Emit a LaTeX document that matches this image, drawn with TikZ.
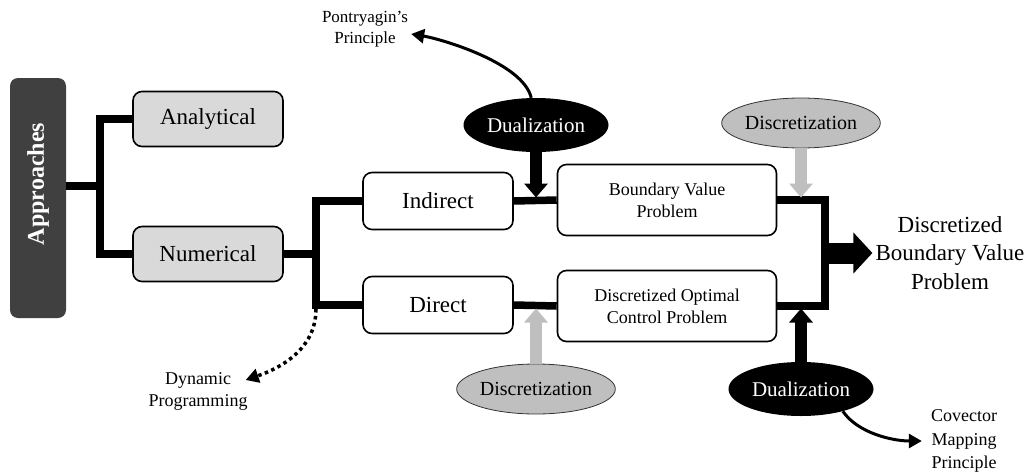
\documentclass[tikz,border=0pt]{standalone}
\usepackage{fontspec}
\setmainfont{Liberation Serif}
\usetikzlibrary{shapes.geometric,arrows.meta}
\definecolor{darkbox}{HTML}{404040}
\definecolor{lightbox}{HTML}{D9D9D9}
\definecolor{discgray}{HTML}{BFBFBF}

\begin{document}
\begin{tikzpicture}[x=1pt,y=-1pt,
  box/.style={draw,rounded corners=9pt,line width=1.6pt,align=center,inner sep=0pt},
  greybox/.style={box,fill=lightbox,minimum width=150pt,minimum height=55pt,font=\fontsize{23}{27}\selectfont},
  plainbox/.style={box,fill=white,minimum width=150pt,minimum height=57pt,font=\fontsize{23}{27}\selectfont},
  widebox/.style={box,fill=white,minimum width=219pt,minimum height=71pt,font=\fontsize{18}{22}\selectfont},
  dual/.style={ellipse,fill=black,text=white,minimum width=145pt,minimum height=54pt,inner sep=0pt,font=\fontsize{21}{25}\selectfont},
  disc/.style={ellipse,draw=black!80,line width=0.8pt,fill=discgray,minimum width=145pt,minimum height=50pt,inner sep=0pt,font=\fontsize{20}{24}\selectfont},
  side/.style={align=center,inner sep=3pt,font=\fontsize{18}{22}\selectfont},
  conn/.style={line width=7.5pt,line join=miter},
  fat/.style={line width=12pt,shorten >=3.5pt,-{Triangle[width=23pt,length=14pt]}},
  curve/.style={line width=3pt,-{Triangle[width=14pt,length=13pt]}}]

\useasboundingbox (0,0) rectangle (1031,474);

\node[fill=darkbox,rounded corners=8pt,rotate=90,minimum width=240pt,minimum height=56pt,
  text=white,font=\fontsize{24}{28}\selectfont\bfseries] (app) at (38,198) {\hspace*{28pt}Approaches};

\node[greybox] (ana) at (208,119) {Analytical};
\node[greybox] (num) at (208,254) {Numerical};
\node[plainbox] (ind) at (438,201) {Indirect};
\node[plainbox] (dir) at (438,305) {Direct};
\node[widebox] (bvp) at (667,200) {Boundary Value\\Problem};
\node[widebox] (docp) at (667,306) {Discretized Optimal\\Control Problem};
\node[align=center,inner sep=3pt,font=\fontsize{23}{28.5}\selectfont] (dbvp) at (950,253) {Discretized\\Boundary Value\\Problem};

\node[dual] (dualtop) at (536,125) {Dualization};
\node[disc] (disctop) at (801,123) {Discretization};
\node[disc] (discbot) at (536,389) {Discretization};
\node[dual] (dualbot) at (801,389) {Dualization};

\node[side,font=\fontsize{17}{21}\selectfont] (pont) at (365,29) {Pontryagin’s\\Principle};
\node[side] (dynprog) at (198,391) {Dynamic\\Programming};
\node[side,font=\fontsize{18}{23.5}\selectfont] (covec) at (964,441) {Covector\\Mapping\\Principle};

\coordinate (fork) at (100,186);
\coordinate (split) at (316,254);
\coordinate (merge) at (825,253);
\coordinate (dpstart) at (316,309);
\coordinate (jIB) at (536,201);
\coordinate (jDD) at (536,305);
\coordinate (jBR) at (801,201);
\coordinate (jDR) at (801,305);

\draw[conn] (app.south |- fork) -- (fork);
\draw[conn] (ana.west) -| (fork) |- (num.west);
\draw[conn] (num.east) -- (split);
\draw[conn] (ind.west) -| (split) |- (dir.west);
\draw[conn] (ind.east) -- (bvp.west);
\draw[conn] (dir.east) -- (docp.west);
\draw[conn] (bvp.east) -| (merge) |- (docp.east);
\draw[line width=21pt,-{Triangle[width=40pt,length=19pt]}] (merge) -- (dbvp.west);

\draw[fat] (dualtop.south) -- (jIB);
\draw[fat,discgray] (disctop.south) -- (jBR);
\draw[fat,discgray] (discbot.north) -- (jDD);
\draw[fat] (dualbot.north) -- (jDR);

\draw[curve] (dualtop.100) .. controls +(-8,-35) and +(30,5) .. ([yshift=-5pt]pont.east);
\draw[curve,line width=3.5pt,dash pattern=on 3.5pt off 3.5pt] (dpstart) .. controls +(0,40) and +(35,-12) .. ([shift={(-5pt,11pt)}]dynprog.east);
\draw[curve,shorten >=6pt] (dualbot.-28) .. controls +(15,22) and +(-35,0) .. (covec.west);
\end{tikzpicture}
\end{document}
